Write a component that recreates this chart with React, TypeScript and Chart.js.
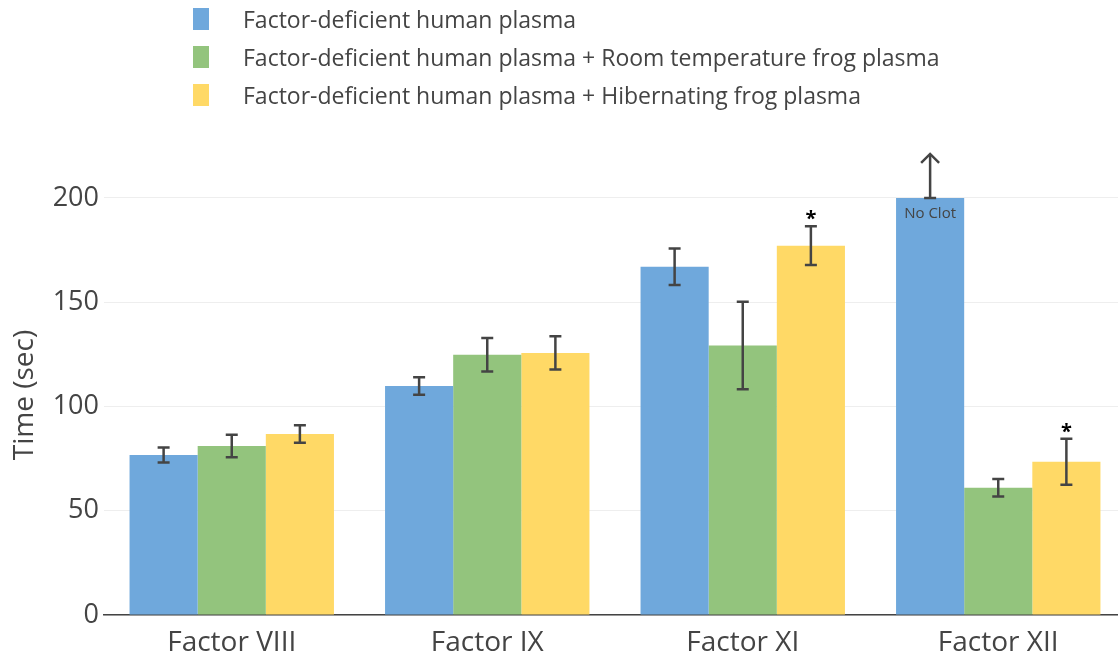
import { useEffect, useRef } from 'react';
import { Chart, registerables } from 'chart.js';

Chart.register(...registerables);

const categories = ['Factor VIII', 'Factor IX', 'Factor XI', 'Factor XII'];
const seriesLabels = [
  'Factor-deficient human plasma',
  'Factor-deficient human plasma + Room temperature frog plasma',
  'Factor-deficient human plasma + Hibernating frog plasma',
];
const humanValues = [76.7, 109.8, 167, 200];
const humanErrors = [3.6, 4.2, 8.7, 0];
const roomValues = [81, 124.8, 129.2, 61];
const roomErrors = [5.4, 8, 21, 4.2];
const hibernatingValues = [86.8, 125.7, 177.1, 73.5];
const hibernatingErrors = [4.2, 8, 9.3, 11];
const humanNoClot = [false, false, false, true];
const hibernatingSignificant = [false, false, true, true];
const yTicks = [0, 50, 100, 150, 200];
const seriesColors = ['#6fa8dc', '#93c47d', '#ffd966'];

const FONT = '"Open Sans", sans-serif';
const INK = '#444444';

const overlayPlugin = {
  id: 'overlay',
  afterDatasetsDraw(chart: any) {
    const ctx = chart.ctx;
    const y = chart.scales.y;
    const errs = [humanErrors, roomErrors, hibernatingErrors];
    ctx.save();
    ctx.strokeStyle = INK;
    ctx.fillStyle = INK;
    ctx.lineWidth = 2.5;
    chart.data.datasets.forEach((ds: any, i: number) => {
      const meta = chart.getDatasetMeta(i);
      meta.data.forEach((bar: any, j: number) => {
        const v = ds.data[j];
        const e = errs[i][j];
        if (e > 0) {
          const top = y.getPixelForValue(v + e);
          const bot = y.getPixelForValue(v - e);
          ctx.beginPath();
          ctx.moveTo(bar.x, top);
          ctx.lineTo(bar.x, bot);
          ctx.moveTo(bar.x - 6, top);
          ctx.lineTo(bar.x + 6, top);
          ctx.moveTo(bar.x - 6, bot);
          ctx.lineTo(bar.x + 6, bot);
          ctx.stroke();
          if (i === 2 && hibernatingSignificant[j]) {
            ctx.save();
            ctx.fillStyle = '#000';
            ctx.font = `bold 20px ${FONT}`;
            ctx.textAlign = 'center';
            ctx.textBaseline = 'alphabetic';
            ctx.fillText('*', bar.x, top - 1);
            ctx.restore();
          }
        }
        if (i === 0 && humanNoClot[j]) {
          const top = y.getPixelForValue(v);
          const tip = top - 44;
          ctx.beginPath();
          ctx.moveTo(bar.x - 6, top);
          ctx.lineTo(bar.x + 6, top);
          ctx.moveTo(bar.x, top);
          ctx.lineTo(bar.x, tip + 1);
          ctx.stroke();
          ctx.beginPath();
          ctx.moveTo(bar.x - 9, tip + 9);
          ctx.lineTo(bar.x, tip);
          ctx.lineTo(bar.x + 9, tip + 9);
          ctx.stroke();
          ctx.font = `15px ${FONT}`;
          ctx.textAlign = 'center';
          ctx.textBaseline = 'middle';
          ctx.fillText('No Clot', bar.x, top + 16);
        }
      });
    });
    ctx.restore();
  },
};

export default function App() {
  const canvasRef = useRef<HTMLCanvasElement | null>(null);

  useEffect(() => {
    const chart = new Chart(canvasRef.current as HTMLCanvasElement, {
      type: 'bar',
      data: {
        labels: categories,
        datasets: [
          { label: seriesLabels[0], data: humanValues, backgroundColor: seriesColors[0] },
          { label: seriesLabels[1], data: roomValues, backgroundColor: seriesColors[1] },
          { label: seriesLabels[2], data: hibernatingValues, backgroundColor: seriesColors[2] },
        ],
      },
      options: {
        animation: false,
        responsive: false,
        maintainAspectRatio: false,
        layout: { padding: { top: 175, right: 0, left: 0, bottom: 0 } },
        datasets: { bar: { categoryPercentage: 0.8, barPercentage: 1.0 } },
        plugins: {
          legend: { display: false },
          tooltip: { enabled: false },
        },
        scales: {
          x: {
            grid: { display: false },
            border: { display: true, color: INK, width: 1.5 },
            ticks: { color: INK, font: { family: FONT, size: 28 }, padding: 3 },
            afterFit: (s: any) => { s.height = 38; },
          },
          y: {
            min: 0,
            max: 211,
            afterBuildTicks: (s: any) => {
              s.ticks = yTicks.map((v) => ({ value: v }));
            },
            grid: { color: '#eeeeee', lineWidth: 1, drawTicks: false },
            border: { display: false },
            ticks: { color: INK, font: { family: FONT, size: 27 }, padding: 5 },
            title: {
              display: true,
              text: 'Time (sec)',
              color: INK,
              font: { family: FONT, size: 28 },
              padding: { top: 8, bottom: 0 },
            },
            afterFit: (s: any) => { s.width = 104; },
          },
        },
      },
      plugins: [overlayPlugin],
    });
    return () => chart.destroy();
  }, []);

  return (
    <div style={{ position: 'fixed', left: 0, top: 0, width: 1126, height: 653, background: '#fff' }}>
      <canvas ref={canvasRef} width={1126} height={653} style={{ position: 'absolute', left: 0, top: 0 }} />
      <div style={{ position: 'absolute', left: 193, top: 0, fontFamily: FONT, fontSize: 23, color: INK }}>
        {seriesLabels.map((l, i) => (
          <div key={l} style={{ display: 'flex', alignItems: 'center', height: 38 }}>
            <span style={{ display: 'inline-block', width: 16, height: 22, background: seriesColors[i] }} />
            <span style={{ marginLeft: 34, whiteSpace: 'nowrap' }}>{l}</span>
          </div>
        ))}
      </div>
    </div>
  );
}
